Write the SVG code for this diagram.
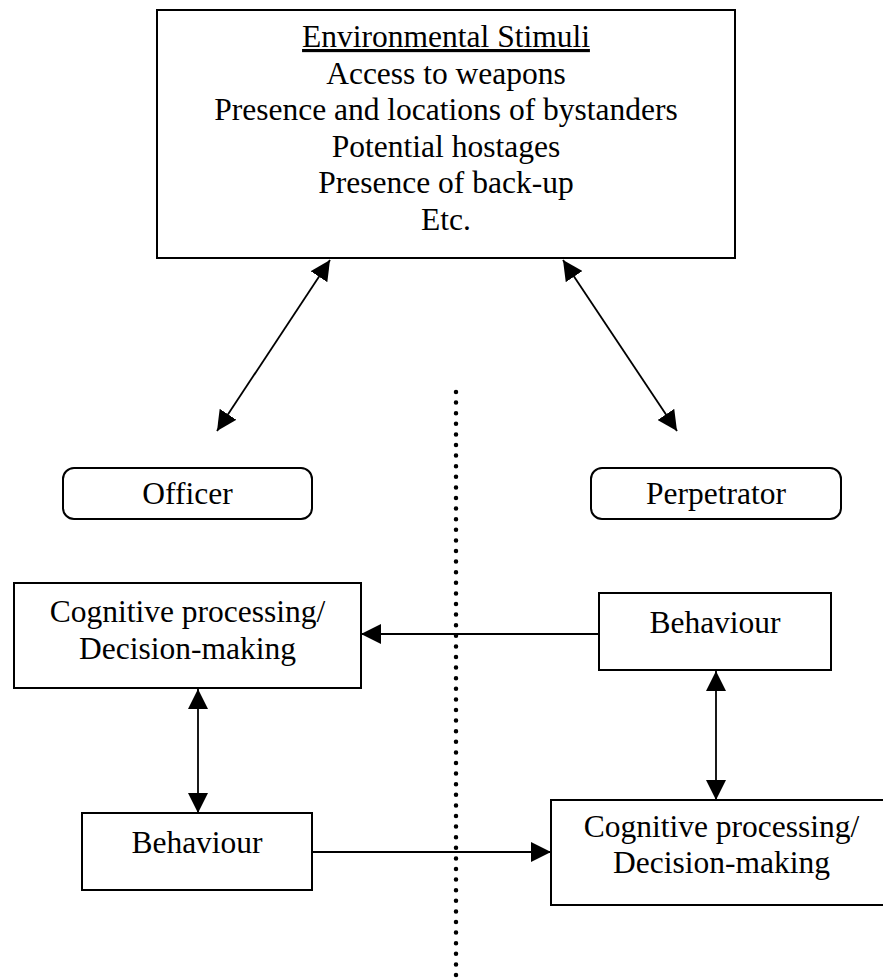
<svg xmlns="http://www.w3.org/2000/svg" width="883" height="980" viewBox="0 0 883 980">
<style>
text{font-family:"Liberation Serif","Times New Roman",serif;font-size:31.5px;fill:#000;text-anchor:middle}
.box{fill:#fff;stroke:#000;stroke-width:2}
.conn{stroke:#000;stroke-width:1.8;fill:none}
.dot{stroke:#000;stroke-width:4.5;stroke-linecap:round;stroke-dasharray:0 10.6;fill:none}
</style>
<defs>
<marker id="ah" markerUnits="userSpaceOnUse" viewBox="0 0 20 20" refX="20" refY="10" markerWidth="20" markerHeight="20" orient="auto-start-reverse">
<path d="M0,0 L20,10 L0,20 z" fill="#000"/>
</marker>
</defs>
<rect width="883" height="980" fill="#fff"/>
<g id="env">
<rect class="box" x="157" y="10" width="578" height="248"/>
<text x="446" y="47" text-decoration="underline">Environmental Stimuli</text>
<text x="446" y="84">Access to weapons</text>
<text x="446" y="120">Presence and locations of bystanders</text>
<text x="446" y="157">Potential hostages</text>
<text x="446" y="193">Presence of back-up</text>
<text x="446" y="230">Etc.</text>
</g>
<g id="officer">
<rect class="box" x="63" y="468" width="249" height="51" rx="11"/>
<text x="187.5" y="504">Officer</text>
</g>
<g id="perpetrator">
<rect class="box" x="591" y="468" width="250" height="51" rx="11"/>
<text x="716" y="504">Perpetrator</text>
</g>
<g id="officer-cog">
<rect class="box" x="14" y="583" width="347" height="105"/>
<text x="187.5" y="622">Cognitive processing/</text>
<text x="187.5" y="659">Decision-making</text>
</g>
<g id="officer-beh">
<rect class="box" x="82" y="813" width="230" height="77"/>
<text x="197" y="853">Behaviour</text>
</g>
<g id="perp-beh">
<rect class="box" x="599" y="593" width="232" height="77"/>
<text x="715" y="633">Behaviour</text>
</g>
<g id="perp-cog">
<rect class="box" x="551" y="800" width="341" height="105"/>
<text x="721.5" y="837">Cognitive processing/</text>
<text x="721.5" y="873">Decision-making</text>
</g>
<g id="connectors">
<line class="dot" x1="456" y1="392" x2="456" y2="985"/>
<line class="conn" x1="330" y1="260" x2="217" y2="431" marker-start="url(#ah)" marker-end="url(#ah)"/>
<line class="conn" x1="563" y1="260" x2="677" y2="431" marker-start="url(#ah)" marker-end="url(#ah)"/>
<line class="conn" x1="599" y1="634" x2="361" y2="634" marker-end="url(#ah)"/>
<line class="conn" x1="198" y1="689" x2="198" y2="813" marker-start="url(#ah)" marker-end="url(#ah)"/>
<line class="conn" x1="716" y1="671" x2="716" y2="800" marker-start="url(#ah)" marker-end="url(#ah)"/>
<line class="conn" x1="312" y1="852" x2="551" y2="852" marker-end="url(#ah)"/>
</g>
</svg>
